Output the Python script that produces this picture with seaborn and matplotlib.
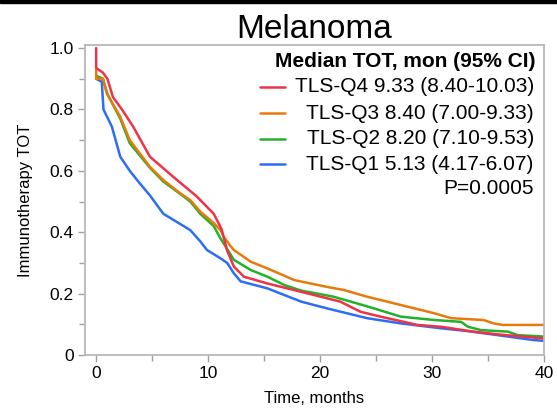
import numpy as np
import pandas as pd
import seaborn as sns
import matplotlib.pyplot as plt
from matplotlib.lines import Line2D
from matplotlib.patches import Rectangle
from matplotlib.ticker import MultipleLocator

# Curves (time in months, fraction still on therapy)
q4_time = [0, 0, 0.6, 1.0, 1.5, 2.3, 3.3, 4.8, 6.9, 9.0, 10.5, 11.2, 11.7, 12.3, 12.9, 13.2,
           15.3, 18.3, 21.8, 23.6, 25.4, 28.7, 30.8, 33.7, 36.2, 40]
q4_surv = [1.0, 0.935, 0.92, 0.90, 0.84, 0.80, 0.744, 0.646, 0.58, 0.516, 0.46, 0.41, 0.34, 0.288,
           0.266, 0.255, 0.233, 0.206, 0.174, 0.141, 0.125, 0.098, 0.092, 0.076, 0.066, 0.054]

q3_time = [0, 0, 0.6, 0.95, 2.15, 3.0, 4.8, 6.0, 7.5, 8.4, 9.3, 10.5, 11.1, 11.4, 12.0, 12.3,
           13.8, 15.3, 17.7, 20.6, 22.1, 24.2, 27.2, 30.2, 31.7, 34.6, 35.5, 36.3, 40]
q3_surv = [0.93, 0.90, 0.90, 0.852, 0.776, 0.70, 0.613, 0.57, 0.527, 0.505, 0.467, 0.43, 0.407,
           0.385, 0.355, 0.342, 0.304, 0.282, 0.244, 0.222, 0.212, 0.19, 0.163, 0.136, 0.12,
           0.114, 0.103, 0.098, 0.098]

q2_time = [0, 0.6, 1.0, 2.15, 3.0, 4.8, 6.0, 7.5, 8.4, 9.3, 10.5, 11.1, 12.3, 13.8, 15.3, 16.8,
           18.3, 21.2, 23.3, 24.8, 27.2, 30.2, 32.6, 33.2, 34.4, 36.8, 37.6, 40]
q2_surv = [0.91, 0.90, 0.85, 0.77, 0.69, 0.61, 0.565, 0.525, 0.50, 0.46, 0.42, 0.38, 0.31, 0.277,
           0.255, 0.228, 0.21, 0.19, 0.168, 0.152, 0.125, 0.114, 0.108, 0.092, 0.081, 0.076,
           0.065, 0.06]

q1_time = [0, 0.5, 0.65, 1.4, 2.15, 3.0, 3.9, 4.8, 6.0, 8.4, 9.3, 9.9, 11.1, 11.7, 12.3, 12.9,
           15.3, 18.3, 20.6, 24.2, 27.2, 30.8, 33.2, 36.8, 39.0, 40]
q1_surv = [0.90, 0.89, 0.80, 0.744, 0.646, 0.60, 0.559, 0.52, 0.46, 0.407, 0.37, 0.342, 0.315,
           0.30, 0.266, 0.24, 0.217, 0.174, 0.152, 0.12, 0.103, 0.087, 0.078, 0.06, 0.049, 0.046]

groups = ["TLS-Q1", "TLS-Q2", "TLS-Q3", "TLS-Q4"]
colors = ["#2b6ef5", "#22b22a", "#e87a0c", "#ee3348"]
legend_labels = ["TLS-Q4 9.33 (8.40-10.03)", "TLS-Q3 8.40 (7.00-9.33)",
                 "TLS-Q2 8.20 (7.10-9.53)", "TLS-Q1 5.13 (4.17-6.07)"]

df = pd.concat([
    pd.DataFrame({"time": t, "surv": s, "group": g})
    for t, s, g in zip([q1_time, q2_time, q3_time, q4_time],
                       [q1_surv, q2_surv, q3_surv, q4_surv], groups)
], ignore_index=True)

sns.set_theme(style="ticks")
plt.rcParams["font.family"] = ["Liberation Sans", "DejaVu Sans"]
plt.rcParams["text.color"] = "black"
plt.rcParams["axes.labelcolor"] = "black"

fig = plt.figure(figsize=(5.57, 4.08), dpi=100)
ax = fig.add_axes([0.1526, 0.1299, 0.824, 0.7598])

sns.lineplot(data=df, x="time", y="surv", hue="group", hue_order=groups,
             palette=colors, sort=False, estimator=None, linewidth=1.8,
             legend=False, ax=ax)

ax.set_xlim(-1, 40)
ax.set_ylim(0, 1.01)
ax.xaxis.set_major_locator(MultipleLocator(10))
ax.xaxis.set_minor_locator(MultipleLocator(5))
ax.yaxis.set_minor_locator(MultipleLocator(0.1))
ax.set_yticks([0, 0.2, 0.4, 0.6, 0.8, 1.0])
ax.set_yticklabels(["0", "0.2", "0.4", "0.6", "0.8", "1.0"])
ax.tick_params(which="both", direction="out", color="#a0a0a0", labelsize=12.5,
               labelcolor="black", width=1)
ax.tick_params(which="major", length=5, pad=3)
ax.tick_params(which="minor", length=4)
for sp in ax.spines.values():
    sp.set_color("#b8b8b8")
    sp.set_linewidth(1.3)

ax.set_xlabel("Time, months", fontsize=12, labelpad=7)
ax.set_ylabel("Immunotherapy TOT", fontsize=12, labelpad=12)
ax.set_title("Melanoma", fontsize=24, pad=4, color="black")

# Legend block, right-aligned like the original
ax.text(0.982, 0.946, "Median TOT, mon (95% CI)", transform=ax.transAxes,
        ha="right", va="center", fontsize=15, fontweight="bold")
row_y = [0.865, 0.780, 0.698, 0.616]
for lab, col, y in zip(legend_labels, colors[::-1], row_y):
    ax.text(0.978, y, lab, transform=ax.transAxes, ha="right", va="center", fontsize=15)
    ax.add_line(Line2D([0.381, 0.436], [y, y], transform=ax.transAxes,
                       color=col, linewidth=1.8))
ax.text(0.978, 0.538, "P=0.0005", transform=ax.transAxes, ha="right", va="center",
        fontsize=15)

# thin black bar along the top edge of the image
fig.patches.append(Rectangle((0, 1 - 3 / 408), 1, 3 / 408, transform=fig.transFigure,
                             color="black", zorder=10))

fig.savefig("out.png", dpi=100)
